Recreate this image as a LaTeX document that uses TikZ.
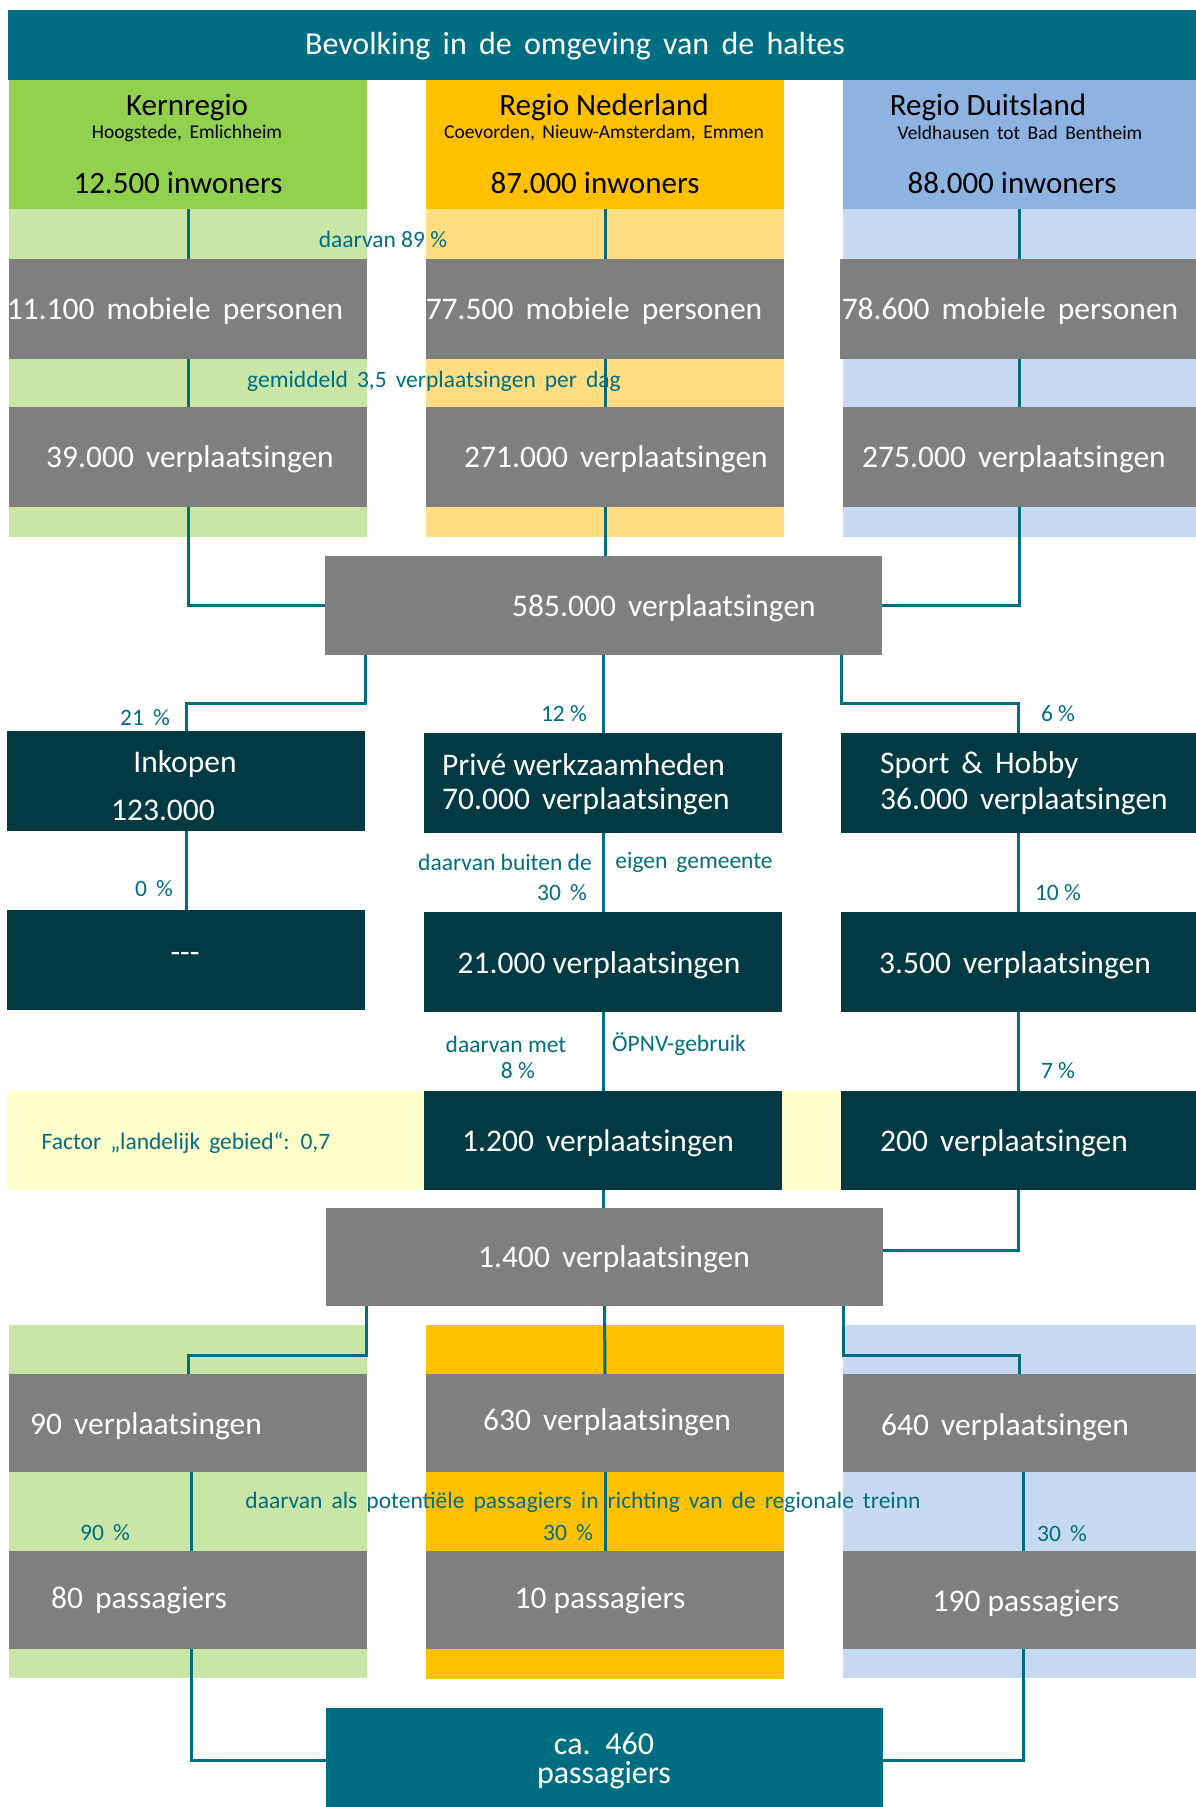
\documentclass[tikz,border=0pt]{standalone}
\usepackage{fontspec}
\setmainfont{Carlito}[WordSpace=1.7]
\definecolor{teal}{HTML}{006E82}
\definecolor{dteal}{HTML}{023A44}
\definecolor{gbox}{HTML}{7F7F7F}
\definecolor{hgreen}{HTML}{92D050}
\definecolor{lgreen}{HTML}{C9E6A6}
\definecolor{horange}{HTML}{FFC000}
\definecolor{lorange}{HTML}{FFDD80}
\definecolor{hblue}{HTML}{8DB3E2}
\definecolor{lblue}{HTML}{C6D9F1}
\definecolor{lyellow}{HTML}{FFFFCC}
\newcommand{\fs}[1]{\fontsize{#1}{#1}\selectfont}
\newcommand{\ns}{\hspace{0.226em}}
\newcommand{\bx}[6]{\node[boxst,fill=#6,minimum width={#4-#2},minimum height={#5-#3}] (#1) at ({(#2+#4)/2},{(#3+#5)/2}) {};}
\tikzset{
  boxst/.style={rectangle,draw=none,inner sep=0pt,outer sep=0pt},
  conn/.style={draw=teal,line width=3pt},
  wt/.style={text=white,inner sep=0pt,font=\fs{31.5}},
  tt/.style={text=white,inner sep=0pt,font=\fs{32}},
  bt/.style={text=black,inner sep=0pt,font=\fs{31}},
  st/.style={text=black,inner sep=0pt,font=\fs{19.5}},
  lb/.style={text=teal,inner sep=0pt,font=\fs{23.5}},
}
\begin{document}
\begin{tikzpicture}[x=1pt,y=-1pt]
\useasboundingbox (0,0) rectangle (1196,1807);
% title
\bx{title}{8}{10}{1196}{80}{teal}
\node[tt] (ttitle) at (575,46) {Bevolking in de omgeving van de haltes};
% bands
\bx{band1}{9}{209}{367}{537}{lgreen}
\bx{band2}{426}{209}{784}{537}{lorange}
\bx{band3}{843}{209}{1196}{537}{lblue}
\bx{bandb1}{9}{1325}{367}{1678}{lgreen}
\bx{bandb2}{426}{1325}{784}{1679}{horange}
\bx{bandb3}{843}{1325}{1196}{1678}{lblue}
\bx{bandy}{7}{1091}{841}{1190}{lyellow}
% headers
\bx{h1}{9}{80}{367}{209}{hgreen}
\bx{h2}{426}{80}{784}{209}{horange}
\bx{h3}{843}{80}{1196}{209}{hblue}
\node[bt] (h1a) at (187,107) {Kernregio};
\node[st] (h1b) at (187,133) {Hoogstede, Emlichheim};
\node[bt] (h1c) at (178,183) {12.500\ns inwoners};
\node[bt] (h2a) at (604,107) {Regio\ns Nederland};
\node[st] (h2b) at (604,133) {Coevorden, Nieuw-Amsterdam, Emmen};
\node[bt] (h2c) at (595,183) {87.000\ns inwoners};
\node[bt] (h3a) at (988,107) {Regio\ns Duitsland};
\node[st] (h3b) at (1020,133) {Veldhausen tot Bad Bentheim};
\node[bt] (h3c) at (1012,183) {88.000\ns inwoners};
% mobiele
\bx{m1}{9}{259}{367}{359}{gbox}
\bx{m2}{426}{259}{784}{359}{gbox}
\bx{m3}{840}{259}{1196}{359}{gbox}
\node[wt] (m1t) at (175,311) {11.100 mobiele personen};
\node[wt] (m2t) at (594,311) {77.500 mobiele personen};
\node[wt] (m3t) at (1010,311) {78.600 mobiele personen};
\node[lb] (l89) at (383,239) {daarvan\ns 89\ns \%};
\node[lb] (l35) at (434,381) {gemiddeld 3,5 verplaatsingen per dag};
% verplaatsingen
\bx{v1}{9}{407}{367}{507}{gbox}
\bx{v2}{426}{407}{784}{507}{gbox}
\bx{v3}{843}{407}{1196}{507}{gbox}
\node[wt] (v1t) at (190,459) {39.000 verplaatsingen};
\node[wt] (v2t) at (616,459) {271.000 verplaatsingen};
\node[wt] (v3t) at (1014,459) {275.000 verplaatsingen};
\bx{t585}{325}{556}{882}{655}{gbox}
\node[wt] (t585t) at (664,608) {585.000 verplaatsingen};
% row A
\bx{ink}{7}{731}{365}{831}{dteal}
\bx{pr}{424}{733}{782}{833}{dteal}
\bx{sp}{841}{733}{1196}{833}{dteal}
\node[wt] (inkt) at (185,764) {Inkopen};
\node[wt] (inkn) at (163,810) {123.000};
\node[wt,anchor=west] (prt) at (442,765) {Privé\ns werkzaamheden};
\node[wt,anchor=west] (prn) at (442,801) {70.000 verplaatsingen};
\node[wt,anchor=west] (spt) at (880,765) {Sport \& Hobby};
\node[wt,anchor=west] (spn) at (880,801) {36.000 verplaatsingen};
\node[lb] (p21) at (145,718) {21 \%};
\node[lb] (p12) at (564,714) {12\ns \%};
\node[lb] (p6) at (1058,714) {6\ns \%};
% row B
\bx{b1}{7}{910}{365}{1010}{dteal}
\bx{b2}{424}{912}{782}{1012}{dteal}
\bx{b3}{841}{912}{1196}{1012}{dteal}
\node[wt] (b1t) at (185,957) {-{}-{}-};
\node[wt] (b2t) at (599,965) {21.000\ns verplaatsingen};
\node[wt] (b3t) at (1015,965) {3.500 verplaatsingen};
\node[lb] (lbu) at (505,862) {daarvan\ns buiten\ns de};
\node[lb] (lge) at (694,862) {eigen gemeente};
\node[lb] (p30a) at (562,893) {30 \%};
\node[lb] (p0) at (154,889) {0 \%};
\node[lb] (p10) at (1058,893) {10\ns \%};
% row C
\bx{c2}{424}{1091}{782}{1190}{dteal}
\bx{c3}{841}{1091}{1196}{1190}{dteal}
\node[lb] (lfac) at (186,1143) {Factor „landelijk gebied“: 0,7};
\node[wt] (c2t) at (598,1143) {1.200 verplaatsingen};
\node[wt] (c3t) at (1004,1143) {200 verplaatsingen};
\node[lb] (lmet) at (506,1044) {daarvan\ns met};
\node[lb] (p8) at (518,1071) {8\ns \%};
\node[lb] (lop) at (679,1044) {ÖPNV-gebruik};
\node[lb] (p7) at (1058,1071) {7\ns \%};
% 1.400
\bx{t1400}{326}{1208}{883}{1306}{gbox}
\node[wt] (t1400t) at (614,1259) {1.400 verplaatsingen};
% row D
\bx{d1}{9}{1374}{367}{1472}{gbox}
\bx{d2}{426}{1374}{784}{1472}{gbox}
\bx{d3}{843}{1374}{1196}{1472}{gbox}
\node[wt] (d1t) at (146,1426) {90 verplaatsingen};
\node[wt] (d2t) at (607,1422) {630 verplaatsingen};
\node[wt] (d3t) at (1005,1427) {640 verplaatsingen};
\node[lb] (lpot) at (583,1502) {daarvan als potentiële passagiers in richting van de regionale treinn};
\node[lb] (p90) at (105,1533) {90 \%};
\node[lb] (p30b) at (568,1533) {30 \%};
\node[lb] (p30c) at (1062,1534) {30 \%};
% row E
\bx{e1}{9}{1551}{367}{1649}{gbox}
\bx{e2}{426}{1551}{784}{1649}{gbox}
\bx{e3}{843}{1551}{1196}{1649}{gbox}
\node[wt] (e1t) at (139,1600) {80 passagiers};
\node[wt] (e2t) at (600,1600) {10\ns passagiers};
\node[wt] (e3t) at (1026,1603) {190\ns passagiers};
% final
\bx{fin}{326}{1708}{883}{1807}{teal}
\node[tt,align=center,font=\fontsize{32}{29}\selectfont] (fint) at (604,1761) {ca. 460\\passagiers};
% connectors
\draw[conn] (h1.south) -- (m1.north);
\draw[conn] (h2.south) -- (m2.north);
\draw[conn] (h3.south) -- (h3.south |- m3.north);
\draw[conn] (m1.south) -- (v1.north);
\draw[conn] (m2.south) -- (v2.north);
\draw[conn] (h3.south |- m3.south) -- (v3.north);
\draw[conn] (v1.south) |- (t585.west);
\draw[conn] (v2.south) -- (v2.south |- t585.north);
\draw[conn] (v3.south) |- (t585.east);
\draw[conn] (t585.south west) ++(40,0) -- ++(0,48) -| (ink.north);
\draw[conn] (t585.south) -- (t585.south |- pr.north);
\draw[conn] (t585.south east) ++(-41,0) -- ++(0,48) -| (sp.north);
\draw[conn] (ink.south) -- (b1.north);
\draw[conn] (pr.south) -- (b2.north);
\draw[conn] (sp.south) -- (b3.north);
\draw[conn] (b2.south) -- (c2.north);
\draw[conn] (b3.south) -- (c3.north);
\draw[conn] (c2.south) -- (c2.south |- t1400.north);
\draw[conn] (c3.south) |- ([yshift=7pt]t1400.east);
\draw[conn] (t1400.south west) ++(40,0) -- ++(0,49) -| (d1.north);
\draw[conn] (t1400.south) -- (d2.north);
\draw[conn] (t1400.south east) ++(-40,0) -- ++(0,49) -| (d3.north);
\draw[conn] ([xshift=3pt]d1.south) -- ([xshift=3pt]e1.north);
\draw[conn] (d2.south) -- (e2.north);
\draw[conn] ([xshift=4pt]d3.south) -- ([xshift=4pt]e3.north);
\draw[conn] ([xshift=3pt]e1.south) |- ([yshift=-3pt]fin.west);
\draw[conn] ([xshift=4pt]e3.south) |- ([yshift=-3pt]fin.east);
\end{tikzpicture}
\end{document}
